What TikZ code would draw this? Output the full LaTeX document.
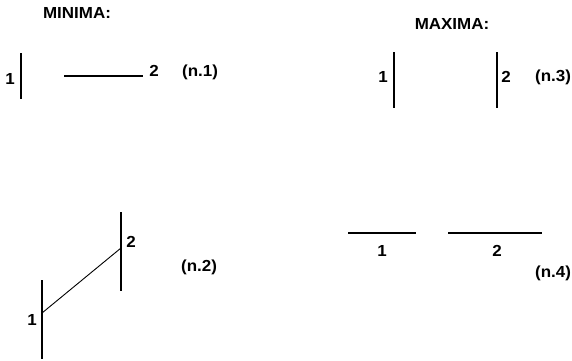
\documentclass[tikz,border=0pt]{standalone}
\usepackage{fontspec}
\setmainfont{Liberation Sans}[FakeStretch=1.06]
\begin{document}
\begin{tikzpicture}[x=1pt,y=-1pt,
  lbl/.style={inner sep=0pt,font=\fontsize{16}{18}\selectfont\bfseries},
  bar/.style={line width=1.7pt},
  hline/.style={line width=1.3pt},
  diag/.style={line width=0.9pt}]
\useasboundingbox (0,0) rectangle (572,360);
% titles
\node[lbl] (tmin) at (77,13) {MINIMA:};
\node[lbl] (tmax) at (452,24) {MAXIMA:};
% n.1
\coordinate (a1t) at (21,53); \coordinate (a1b) at (21,99);
\coordinate (a2l) at (64,76); \coordinate (a2r) at (143,76);
\draw[bar] (a1t) -- (a1b);
\draw[hline] (a2l) -- (a2r);
\node[lbl] (a1) at (10,79) {1};
\node[lbl] (a2) at (154,71) {2};
\node[lbl] (an) at (200,72) {(n.1)};
% n.3
\coordinate (c1t) at (394,52); \coordinate (c1b) at (394,108);
\coordinate (c2t) at (497,52); \coordinate (c2b) at (497,108);
\draw[bar] (c1t) -- (c1b);
\draw[bar] (c2t) -- (c2b);
\node[lbl] (c1) at (383,77) {1};
\node[lbl] (c2) at (506,77) {2};
\node[lbl] (cn) at (553,77) {(n.3)};
% n.2
\coordinate (b1t) at (42,280); \coordinate (b1b) at (42,359);
\coordinate (b2t) at (121,212); \coordinate (b2b) at (121,291);
\coordinate (b1m) at (42,313); \coordinate (b2m) at (121,248);
\draw[bar] (b1t) -- (b1b);
\draw[bar] (b2t) -- (b2b);
\draw[diag] (b1m) -- (b2m);
\node[lbl] (b1) at (32,320) {1};
\node[lbl] (b2) at (131,242) {2};
\node[lbl] (bn) at (199,267) {(n.2)};
% n.4
\coordinate (d1l) at (348,233); \coordinate (d1r) at (416,233);
\coordinate (d2l) at (448,233); \coordinate (d2r) at (542,233);
\draw[hline] (d1l) -- (d1r);
\draw[hline] (d2l) -- (d2r);
\node[lbl] (d1) at (382,251) {1};
\node[lbl] (d2) at (497,251) {2};
\node[lbl] (dn) at (553,273) {(n.4)};
\end{tikzpicture}
\end{document}
